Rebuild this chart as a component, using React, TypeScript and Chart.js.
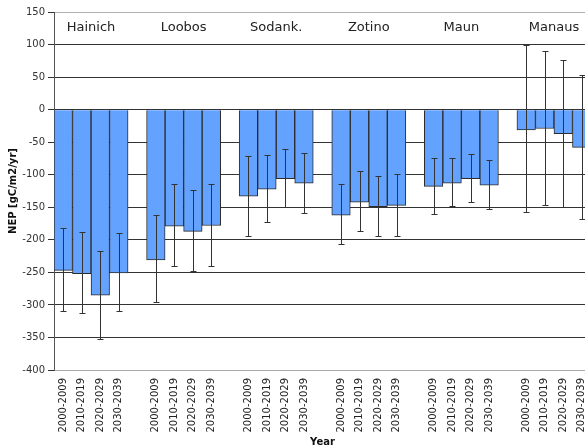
import React, { useEffect, useRef } from "react";
import { Chart, registerables } from "chart.js";

Chart.register(...registerables);

const sites = ["Hainich", "Loobos", "Sodank.", "Zotino", "Maun", "Manaus"];
const periods = ["2000-2009", "2010-2019", "2020-2029", "2030-2039"];

// NEP mean per site and decade (gC/m2/yr), site by site, 4 decades each
const nepMean = [
  -247, -252, -285, -251,
  -231, -179, -187, -178,
  -133, -122, -106, -113,
  -162, -142, -149, -147,
  -118, -113, -106, -116,
  -31, -29, -37, -58,
];
const errUpper = [
  -182, -188, -217, -189,
  -162, -115, -123, -115,
  -71, -70, -61, -66,
  -115, -95, -102, -99,
  -75, -74, -68, -77,
  100, 90, 76, 53,
];
const errLower = [
  -310, -313, -352, -309,
  -296, -240, -248, -240,
  -194, -173, -149, -159,
  -207, -187, -194, -194,
  -160, -148, -142, -152,
  -158, -147, -149, -168,
];

const yMin = -400;
const yMax = 150;
const yStep = 50;

// Build category slots: 4 decades per site, a blank slot between sites
const labels: string[] = [];
const values: (number | null)[] = [];
const hi: (number | null)[] = [];
const lo: (number | null)[] = [];
const groupRanges: [number, number][] = [];
sites.forEach((_, s) => {
  const start = labels.length;
  periods.forEach((p, k) => {
    labels.push(p);
    values.push(nepMean[s * 4 + k]);
    hi.push(errUpper[s * 4 + k]);
    lo.push(errLower[s * 4 + k]);
  });
  groupRanges.push([start, labels.length - 1]);
  if (s < sites.length - 1) {
    labels.push("");
    values.push(null);
    hi.push(null);
    lo.push(null);
  }
});

const FONT = "'DejaVu Sans', Verdana, sans-serif";

const errorBarPlugin = {
  id: "errorBars",
  afterDatasetsDraw(chart: any) {
    const ctx = chart.ctx;
    const meta = chart.getDatasetMeta(0);
    const y = chart.scales.y;
    ctx.save();
    ctx.strokeStyle = "#333";
    ctx.lineWidth = 1;
    meta.data.forEach((el: any, i: number) => {
      if (values[i] == null || hi[i] == null || lo[i] == null) return;
      const x = Math.round(el.x) + 0.5;
      const yt = Math.round(y.getPixelForValue(hi[i] as number)) + 0.5;
      const yb = Math.round(y.getPixelForValue(lo[i] as number)) + 0.5;
      ctx.beginPath();
      ctx.moveTo(x, yt);
      ctx.lineTo(x, yb);
      ctx.moveTo(x - 3, yt);
      ctx.lineTo(x + 3, yt);
      ctx.moveTo(x - 3, yb);
      ctx.lineTo(x + 3, yb);
      ctx.stroke();
    });
    ctx.restore();
  },
};

const siteLabelPlugin = {
  id: "siteLabels",
  afterDraw(chart: any) {
    const ctx = chart.ctx;
    const x = chart.scales.x;
    ctx.save();
    ctx.font = `13px ${FONT}`;
    ctx.fillStyle = "#222";
    ctx.textAlign = "center";
    ctx.textBaseline = "middle";
    groupRanges.forEach(([a, b], s) => {
      const cx = (x.getPixelForValue(a) + x.getPixelForValue(b)) / 2;
      ctx.fillText(sites[s], cx, 28);
    });
    ctx.restore();
  },
};

export default function App() {
  const ref = useRef<HTMLCanvasElement | null>(null);
  useEffect(() => {
    if (!ref.current) return;
    const chart = new Chart(ref.current, {
      type: "bar",
      data: {
        labels,
        datasets: [
          {
            data: values,
            backgroundColor: "#64A2FF",
            borderColor: "#2b2b2b",
            borderWidth: 1,
            categoryPercentage: 1,
            barPercentage: 1,
          },
        ],
      },
      options: {
        animation: false,
        responsive: false,
        devicePixelRatio: 1,
        layout: { padding: { top: 12, right: 0, bottom: 0, left: 0 } },
        plugins: {
          legend: { display: false },
          tooltip: { enabled: false },
        },
        scales: {
          x: {
            grid: { display: false, drawTicks: true, tickLength: 8 },
            border: { display: true, color: "#aaa" },
            ticks: {
              autoSkip: false,
              maxRotation: 90,
              minRotation: 90,
              padding: 0,
              color: "#222",
              font: { family: FONT, size: 10 },
            },
            title: {
              display: true,
              text: "Year",
              color: "#111",
              font: { family: FONT, size: 10, weight: "bold" },
              padding: { top: 0, bottom: 0 },
            },
            afterFit(s: any) {
              s.height = 78;
              s.paddingLeft = 0;
              s.paddingRight = 0;
            },
          },
          y: {
            min: yMin,
            max: yMax,
            ticks: {
              stepSize: yStep,
              padding: 3,
              color: "#333",
              font: { family: FONT, size: 10 },
            },
            grid: {
              color: (c: any) =>
                c.tick && (c.tick.value === yMax || c.tick.value === yMin) ? "#b0b0b0" : "#333",
              tickColor: "#333",
              tickLength: 6,
            },
            border: { display: true, color: "#555" },
            title: {
              display: true,
              text: "NEP [gC/m2/yr]",
              color: "#111",
              font: { family: FONT, size: 10, weight: "bold" },
              padding: { top: 7, bottom: 0 },
            },
            afterFit(s: any) {
              s.width = 54;
              s.paddingTop = 0;
              s.paddingBottom = 0;
            },
          },
        },
      },
      plugins: [errorBarPlugin, siteLabelPlugin],
    });
    return () => chart.destroy();
  }, []);
  return (
    <div
      style={{
        position: "fixed",
        left: 0,
        top: 0,
        width: 585,
        height: 448,
        overflow: "hidden",
        background: "#fff",
      }}
    >
      <canvas ref={ref} width={591} height={448} style={{ display: "block" }} />
    </div>
  );
}
